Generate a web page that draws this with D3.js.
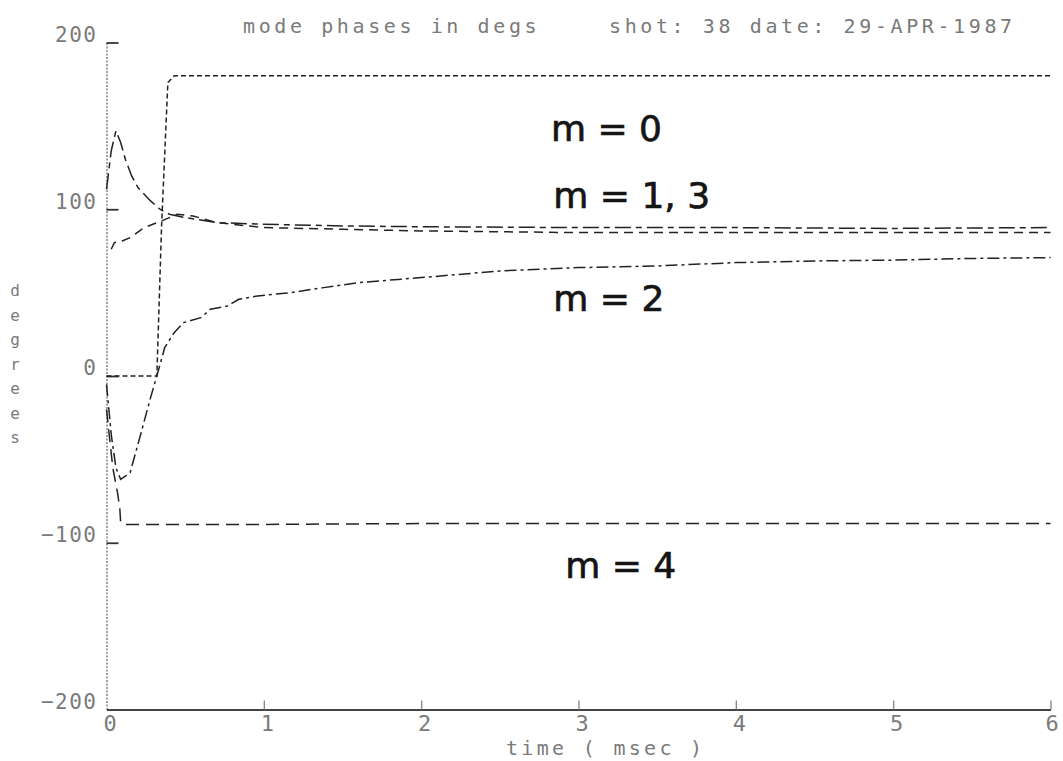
<!DOCTYPE html>
<html>
<head>
<meta charset="utf-8">
<script src="https://cdn.jsdelivr.net/npm/d3@7"></script>
<style>
  html, body { margin: 0; padding: 0; background: #fff; }
  svg { display: block; }
  .plot-text { font-family: "DejaVu Sans Mono", "Liberation Mono", monospace; fill: #7a7a7a; }
  .hand { font-family: "DejaVu Sans", sans-serif; fill: #151515; stroke: #151515; stroke-width: 0.7; }
</style>
</head>
<body>
<svg id="chart" width="1063" height="761"></svg>
<script>
// Mode phase traces (degrees) against time (msec)
const m0Time  = [0, 0.10, 0.20, 0.32, 0.35, 0.39, 0.43, 1, 2, 3, 4, 5, 6];
const m0Phase = [0, 0, 0, 0, 90, 176, 180, 180, 180, 180, 180, 180, 180];

const m1Time  = [0, 0.03, 0.06, 0.09, 0.12, 0.16, 0.20, 0.28, 0.34, 0.40, 0.50, 0.70, 1.0, 1.5, 2, 3, 4, 5, 6];
const m1Phase = [112, 135, 147, 140, 130, 120, 113, 105, 100, 97, 95, 92, 91, 90, 89.5, 89, 89, 88.5, 89];

const m3Time  = [0.03, 0.05, 0.10, 0.15, 0.24, 0.35, 0.45, 0.55, 0.70, 1.0, 1.5, 2, 3, 4, 5, 6];
const m3Phase = [76, 80, 81, 83, 89, 93, 97, 96, 92, 89, 88, 87, 86, 86, 86, 86];

const m2Time  = [0, 0.03, 0.06, 0.09, 0.15, 0.22, 0.28, 0.32, 0.37, 0.43, 0.49, 0.60, 0.66, 0.77, 0.84, 0.96, 1.17, 1.38, 1.6, 2.0, 2.5, 3.0, 3.5, 4.0, 4.5, 5.0, 5.5, 6.0];
const m2Phase = [-5, -35, -55, -62, -58, -34, -13, 0, 17, 26, 32, 35, 40, 42, 46, 48, 50, 53, 56, 59, 63, 65, 66, 68, 69, 69.5, 70.5, 71];

const m4Time  = [0, 0.04, 0.07, 0.085, 0.09, 0.12, 1, 2, 3, 4, 5, 6];
const m4Phase = [-20, -55, -70, -80, -88, -89, -89, -88.5, -88.5, -88.5, -88.5, -88.5];

const xTicks = [0, 1, 2, 3, 4, 5, 6];
const yTicks = [200, 100, 0, -100, -200];

const titleLeft  = "mode phases in degs";
const titleRight = "shot: 38  date: 29-APR-1987";
const xTitle = "time ( msec )";
const yTitle = "degrees";

const modeNotes = [
  { text: "m = 0",    t: 2.825, v: 141 },
  { text: "m = 1, 3", t: 2.84,  v: 101 },
  { text: "m = 2",    t: 2.84,  v: 39 },
  { text: "m = 4",    t: 2.915, v: -121 }
];

// ---- layout ----
const svg = d3.select("#chart");
const x = d3.scaleLinear().domain([0, 6]).range([106.5, 1050.5]);
const y = d3.scaleLinear().domain([-200, 200]).range([709.5, 42.5]);

// y axis: dotted spine with short inward ticks
const yAxis = svg.append("g")
  .attr("transform", `translate(${x(0)},0)`)
  .call(d3.axisLeft(y).tickValues(yTicks).tickFormat(d3.format("d"))
    .tickSizeInner(-12).tickSizeOuter(0).tickPadding(9));
yAxis.select(".domain").attr("stroke", "#8a8a8a").attr("stroke-width", 1.6).attr("stroke-dasharray", "2,1.5");
yAxis.selectAll(".tick line").attr("stroke", "#333").attr("stroke-width", 1.8);
yAxis.selectAll(".tick text")
  .attr("class", "plot-text")
  .attr("font-size", 21)
  .attr("letter-spacing", 1.5)
  .attr("dy", "-0.05em")
  .attr("fill", "#7a7a7a");
yAxis.selectAll(".tick").filter(d => d === -200).select("line").remove();

// x axis: solid base line with upward ticks
const xAxis = svg.append("g")
  .attr("transform", `translate(0,${y(-200)})`)
  .call(d3.axisBottom(x).tickValues(xTicks).tickFormat(d3.format("d"))
    .tickSizeInner(-9).tickSizeOuter(0).tickPadding(6));
xAxis.select(".domain").attr("stroke", "#444").attr("stroke-width", 2);
xAxis.selectAll(".tick line").attr("stroke", "#888").attr("stroke-width", 1.4);
xAxis.selectAll(".tick").filter(d => d === 0).select("line").remove();
xAxis.selectAll(".tick text")
  .attr("class", "plot-text")
  .attr("font-size", 22)
  .attr("dx", d => d === 6 ? 1 : 3)
  .attr("fill", "#7a7a7a");

// titles
svg.append("text").attr("class", "plot-text")
  .attr("x", 243).attr("y", 33).attr("font-size", 20).attr("letter-spacing", 3.6)
  .text(titleLeft);
svg.append("text").attr("class", "plot-text")
  .attr("x", 609).attr("y", 33).attr("font-size", 20).attr("letter-spacing", 3.6)
  .text(titleRight);
svg.append("text").attr("class", "plot-text")
  .attr("x", 506).attr("y", 755).attr("font-size", 20).attr("letter-spacing", 3.3)
  .text(xTitle);

// vertical axis title, one letter per row
svg.append("g").selectAll("text")
  .data(yTitle.split(""))
  .join("text")
  .attr("class", "plot-text")
  .attr("x", 15).attr("y", (d, i) => 296 + i * 24.5)
  .attr("text-anchor", "middle")
  .attr("font-size", 16)
  .text(d => d);

// ---- traces ----
const line = d3.line().x(d => x(d[0])).y(d => y(d[1]));
const zip = (ts, vs) => ts.map((t, i) => [t, vs[i]]);

const traces = [
  { pts: zip(m0Time, m0Phase), dash: "5,3" },
  { pts: zip(m1Time, m1Phase), dash: "16,5,6,5" },
  { pts: zip(m3Time, m3Phase), dash: "9,6" },
  { pts: zip(m2Time, m2Phase), dash: "12,4,3,4" },
  { pts: zip(m4Time, m4Phase), dash: "13,7" }
];

svg.append("g").selectAll("path")
  .data(traces)
  .join("path")
  .attr("d", d => line(d.pts))
  .attr("fill", "none")
  .attr("stroke", "#222")
  .attr("stroke-width", 1.5)
  .attr("stroke-dasharray", d => d.dash);

// handwritten mode labels
svg.append("g").selectAll("text")
  .data(modeNotes)
  .join("text")
  .attr("class", "hand")
  .attr("x", d => x(d.t))
  .attr("y", d => y(d.v))
  .attr("font-size", 36)
  .text(d => d.text);
</script>
</body>
</html>
